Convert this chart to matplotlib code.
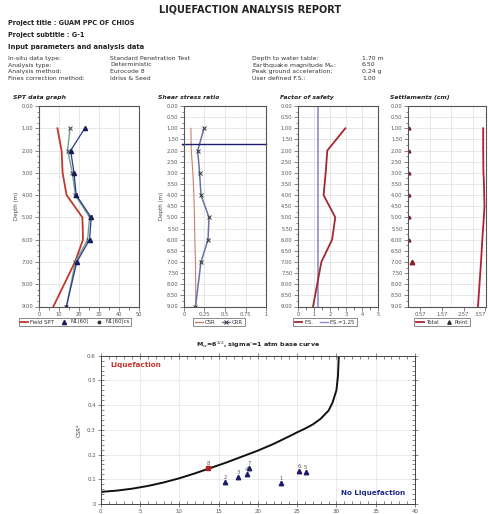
import matplotlib
matplotlib.use('Agg')
import matplotlib.pyplot as plt
from matplotlib.ticker import MultipleLocator, FixedLocator, FormatStrFormatter
import matplotlib.lines as mlines

plt.rcParams['font.family'] = ['DejaVu Sans']

# ---------------- data ----------------
depths = [1, 2, 3, 4, 5, 6, 7, 9]
field_spt = [9.2, 11.3, 11.8, 13.8, 21.7, 22.0, 18.0, 7.2]
n1_60 = [22.9, 15.8, 17.5, 18.6, 26.1, 25.3, 18.9, 13.7]
n1_60cs = [15.5, 14.3, 16.7, 18.2, 25.3, 24.3, 18.2, 13.7]
csr = [0.084, 0.089, 0.108, 0.120, 0.128, 0.132, 0.140, 0.144]
crr = [0.244, 0.167, 0.190, 0.207, 0.305, 0.293, 0.207, 0.140]
fs = [2.96, 1.83, 1.73, 1.60, 2.33, 2.13, 1.46, 0.94]
fs_user = 1.25
water_table = 1.70
settle_depths = [1, 2, 3, 3.3, 4.5, 5, 6, 7, 9]
settle_total = [3.47, 3.47, 3.48, 3.50, 3.53, 3.50, 3.43, 3.37, 3.23]
point_depths = [1, 2, 3, 4, 5, 6, 7]
settle_point = [0.05, 0.05, 0.05, 0.05, 0.05, 0.05, 0.18]

pt_labels = ['1', '2', '3', '4', '5', '6', '7', '8']
pt_n = [22.9, 15.8, 17.5, 18.6, 26.1, 25.3, 18.9, 13.7]
pt_csr = [0.084, 0.089, 0.108, 0.120, 0.128, 0.132, 0.145, 0.144]
pt_liq = [False, False, False, False, False, False, False, True]

curve_n = [0, 2, 4, 6, 8, 10, 12, 14, 16, 18, 20, 22, 24, 25, 26, 27, 28, 29, 29.5, 30, 30.2, 30.3]
curve_csr = [0.049, 0.054, 0.062, 0.073, 0.087, 0.104, 0.124, 0.146, 0.168, 0.192, 0.216, 0.243,
             0.274, 0.290, 0.305, 0.322, 0.345, 0.378, 0.41, 0.46, 0.52, 0.60]

info_left = ['In-situ data type:', 'Analysis type:', 'Analysis method:', 'Fines correction method:']
info_left_val = ['Standard Penetration Test', 'Deterministic', 'Eurocode 8', 'Idriss & Seed']
info_right = ['Depth to water table:', 'Earthquake magnitude M$_w$:', 'Peak ground acceleration:', 'User defined F.S.:']
info_right_val = ['1.70 m', '6.50', '0.24 g', '1.00']

# ---------------- figure ----------------
W, H = 489, 514
fig = plt.figure(figsize=(W / 100, H / 100), dpi=100)


def rect(x0, y0, x1, y1):
    return [x0 / W, 1 - y1 / H, (x1 - x0) / W, (y1 - y0) / H]


def fxy(px, py):
    return px / W, 1 - py / H


TXT = '#222222'
fig.text(*fxy(250, 9), 'LIQUEFACTION ANALYSIS REPORT', ha='center', va='center',
         fontsize=7.0, fontweight='bold', color=TXT)
fig.text(*fxy(8, 23), 'Project title : GUAM PPC OF CHIOS', ha='left', va='center',
         fontsize=4.7, fontweight='bold', color=TXT)
fig.text(*fxy(8, 35), 'Project subtitle : G-1', ha='left', va='center',
         fontsize=4.7, fontweight='bold', color=TXT)
fig.text(*fxy(8, 47.5), 'Input parameters and analysis data', ha='left', va='center',
         fontsize=4.9, fontweight='bold', color=TXT)
rows_y = [58.5, 65.0, 71.5, 78.0]
for i, yy in enumerate(rows_y):
    fig.text(*fxy(8, yy), info_left[i], ha='left', va='center', fontsize=4.4, color='#333')
    fig.text(*fxy(110, yy), info_left_val[i], ha='left', va='center', fontsize=4.4, color='#333')
    fig.text(*fxy(252, yy), info_right[i], ha='left', va='center', fontsize=4.4, color='#333')
    fig.text(*fxy(362, yy), info_right_val[i], ha='left', va='center', fontsize=4.4, color='#333')

TOP, BOT = 106, 306.5
GRID = '#dddddd'


def style(ax, ystep, yminor):
    ax.set_ylim(9, 0)
    ax.yaxis.set_major_locator(MultipleLocator(ystep))
    ax.yaxis.set_minor_locator(MultipleLocator(yminor))
    ax.yaxis.set_major_formatter(FormatStrFormatter('%.2f'))
    ax.tick_params(which='both', labelsize=3.7, colors='#555', width=0.5, pad=1)
    ax.tick_params(which='major', length=3)
    ax.tick_params(which='minor', length=1.8)
    for s in ax.spines.values():
        s.set_color('#555')
        s.set_linewidth(0.8)
    ax.set_axisbelow(True)


def legend(handles, labels, x0, x1, yc=322):
    lg = fig.legend(handles, labels, loc='center',
                    bbox_to_anchor=((x0 + x1) / 2 / W, 1 - yc / H), ncol=len(handles),
                    fontsize=3.9, frameon=True, fancybox=False, edgecolor='#555',
                    handlelength=1.4, handletextpad=0.4, columnspacing=1.2,
                    borderpad=0.35, labelcolor='#333')
    lg.get_frame().set_linewidth(0.6)


# SPT panel
ax1 = fig.add_axes(rect(39, TOP, 139, BOT))
style(ax1, 1.0, 0.25)
ax1.set_xlim(0, 50)
ax1.xaxis.set_major_locator(MultipleLocator(10))
ax1.xaxis.set_minor_locator(MultipleLocator(5))
ax1.grid(True, which='major', color=GRID, lw=0.5)
c_spt, c_n60, c_ncs = '#c0392b', '#2b3a8c', '#6f9f84'
ax1.plot(field_spt, depths, color=c_spt, lw=1.3)
ax1.plot(n1_60cs, depths, color=c_ncs, lw=1.0, marker='x', ms=3, mec='#444', mew=0.7)
ax1.plot(n1_60, depths, color=c_n60, lw=0.9, marker='^', ms=3, mfc='#1a1a5e', mec='#1a1a5e')
ax1.set_ylabel('Depth (m)', fontsize=4, color='#444', labelpad=2)
fig.text(*fxy(13, 97.7), 'SPT data graph', fontsize=4.4, fontweight='bold', style='italic',
         color=TXT, ha='left', va='center')
legend([mlines.Line2D([], [], color=c_spt, lw=1.3),
        mlines.Line2D([], [], color=c_n60, lw=0, marker='^', ms=3, mfc='#1a1a5e', mec='#1a1a5e'),
        mlines.Line2D([], [], color=c_ncs, lw=0, marker='o', ms=1.8, mfc='#333', mec='#333')],
       ['Field SPT', 'N1(60)', 'N1(60)cs'], 15, 135)

# Shear stress panel
ax2 = fig.add_axes(rect(184, TOP, 266, BOT))
style(ax2, 0.5, 0.25)
ax2.set_xlim(0, 1)
ax2.set_xticks([0, 0.25, 0.5, 0.75, 1])
ax2.set_xticklabels(['0', '0.25', '0.5', '0.75', '1'])
ax2.grid(True, which='major', color=GRID, lw=0.5)
c_csr, c_crr = '#c9806f', '#6b6fa6'
ax2.plot(csr, depths, color=c_csr, lw=0.8)
ax2.plot(crr, depths, color=c_crr, lw=1.1, marker='x', ms=3, mec='#333', mew=0.7)
ax2.axhline(water_table, color='#1c1c6e', lw=1.0, xmin=-0.02, xmax=1.0, clip_on=False)
ax2.set_ylabel('Depth (m)', fontsize=4, color='#444', labelpad=2)
fig.text(*fxy(158, 97.7), 'Shear stress ratio', fontsize=4.4, fontweight='bold', style='italic',
         color=TXT, ha='left', va='center')
legend([mlines.Line2D([], [], color=c_csr, lw=1.0),
        mlines.Line2D([], [], color=c_crr, lw=1.0, marker='x', ms=2.5, mec='#333', mew=0.7)],
       ['CSR', 'CRR'], 188, 250)

# Factor of safety panel
ax3 = fig.add_axes(rect(298, TOP, 378, BOT))
style(ax3, 0.5, 0.25)
ax3.set_xlim(0, 5)
ax3.xaxis.set_major_locator(MultipleLocator(1))
ax3.xaxis.set_minor_locator(MultipleLocator(0.5))
ax3.grid(True, which='major', color=GRID, lw=0.5)
c_fs, c_fsu = '#9e2a2f', '#8f90c9'
ax3.axvline(fs_user, color=c_fsu, lw=1.2)
ax3.plot(fs, depths, color=c_fs, lw=1.3)
fig.text(*fxy(280, 97.7), 'Factor of safety', fontsize=4.4, fontweight='bold', style='italic',
         color=TXT, ha='left', va='center')
legend([mlines.Line2D([], [], color=c_fs, lw=1.3),
        mlines.Line2D([], [], color=c_fsu, lw=1.0)],
       ['F.S.', 'F.S.=1.25'], 278, 372)

# Settlements panel
ax4 = fig.add_axes(rect(408, TOP, 486, BOT))
style(ax4, 0.5, 0.25)
ax4.set_xlim(0, 3.6)
ax4.set_xticks([0.57, 1.57, 2.57, 3.57])
ax4.set_xticklabels(['0.57', '1.57', '2.57', '3.57'])
ax4.get_xticklabels()[-1].set_horizontalalignment('right')
ax4.grid(True, axis='y', which='major', color=GRID, lw=0.5)
ax4.xaxis.set_minor_locator(FixedLocator([1, 2, 3]))
ax4.grid(True, axis='x', which='minor', color=GRID, lw=0.5)
ax4.tick_params(axis='x', which='minor', length=0)
c_set = '#b0222e'
ax4.plot(settle_total, settle_depths, color=c_set, lw=1.3, clip_on=False)
ax4.plot(settle_point, point_depths, lw=0, marker='^', ms=2.0, mfc='#7a1a24', mec='#7a1a24')
ax4.plot([settle_point[-1]], [point_depths[-1]], lw=0, marker='^', ms=3.2, mfc='#8b1c28', mec='#8b1c28')
fig.text(*fxy(390, 97.7), 'Settlements (cm)', fontsize=4.4, fontweight='bold', style='italic',
         color=TXT, ha='left', va='center')
legend([mlines.Line2D([], [], color=c_set, lw=1.3),
        mlines.Line2D([], [], color='#333', lw=0, marker='^', ms=2.5)],
       ['Total', 'Point'], 412, 472)

# ---------------- bottom chart ----------------
ax5 = fig.add_axes(rect(100.7, 355.7, 415, 504))
ax5.set_xlim(0, 40)
ax5.set_ylim(0, 0.6)
ax5.xaxis.set_major_locator(MultipleLocator(5))
ax5.xaxis.set_minor_locator(MultipleLocator(1))
ax5.yaxis.set_major_locator(MultipleLocator(0.1))
ax5.yaxis.set_minor_locator(MultipleLocator(0.02))
ax5.yaxis.set_major_formatter(FormatStrFormatter('%g'))
ax5.tick_params(which='both', top=True, right=True, labelsize=3.9, colors='#555', width=0.5, pad=1.5)
ax5.tick_params(which='major', direction='inout', length=4)
ax5.tick_params(which='minor', direction='in', length=2)
ax5.grid(True, which='major', color='#e3e3e3', lw=0.5)
ax5.set_axisbelow(True)
for s in ax5.spines.values():
    s.set_color('#444')
    s.set_linewidth(0.7)
ax5.plot(curve_n, curve_csr, color='#111111', lw=1.4)
for lab, n, c, lq in zip(pt_labels, pt_n, pt_csr, pt_liq):
    if lq:
        ax5.plot(n, c, marker='s', ms=3.2, color='#b22222', lw=0)
    else:
        ax5.plot(n, c, marker='^', ms=3.2, color='#1b1b6b', lw=0)
    ax5.text(n, c + 0.018, lab, fontsize=3.8, color='#555', ha='center', va='center')
ax5.set_ylabel('CSR*', fontsize=4, color='#444', labelpad=4)
ax5.text(1.2, 0.562, 'Liquefaction', fontsize=5.2, fontweight='bold', color='#c0392b',
         ha='left', va='center')
ax5.text(38.7, 0.045, 'No Liquefaction', fontsize=5.2, fontweight='bold', color='#1f2a8a',
         ha='right', va='center')
fig.text(*fxy(258, 345), "M$_w$=6$^{1/2}$, sigma'=1 atm base curve", fontsize=4.6,
         fontweight='bold', color=TXT, ha='center', va='center')

fig.savefig('out.png', dpi=100, facecolor='white')
